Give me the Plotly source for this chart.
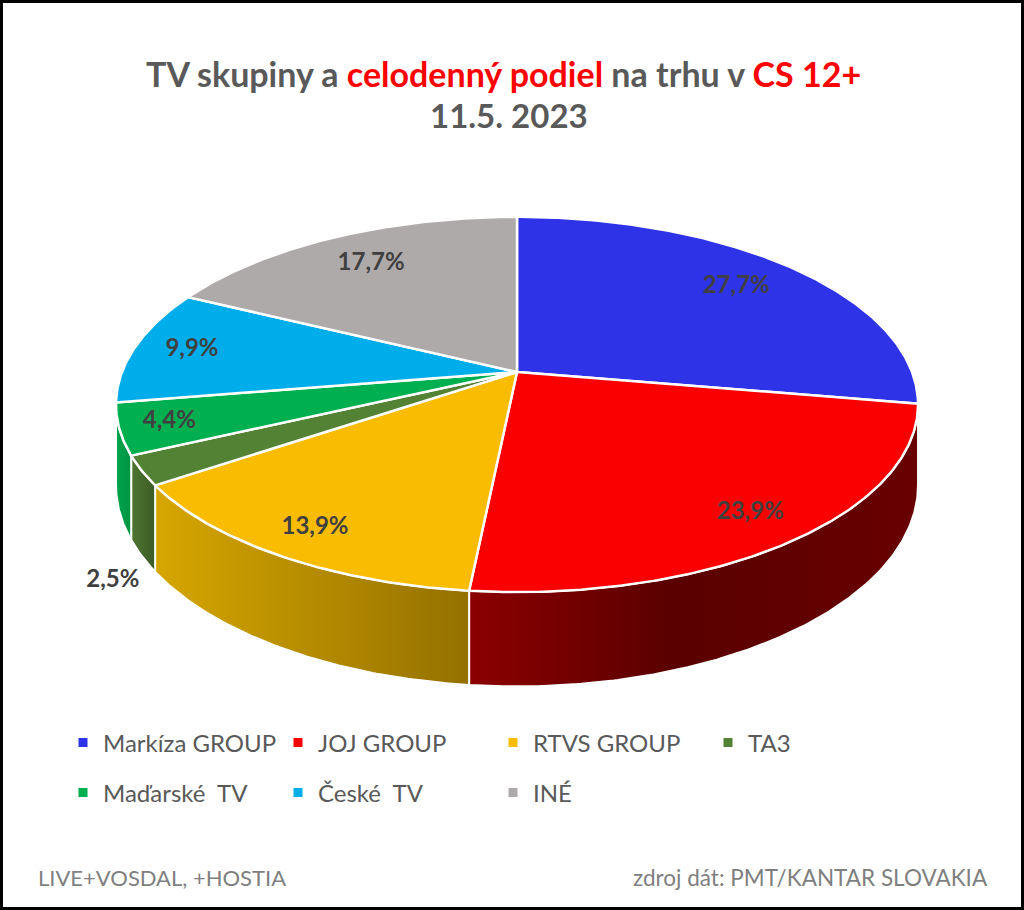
import math
import plotly.graph_objects as go

# data
groups = ["Markíza GROUP", "JOJ GROUP", "RTVS GROUP", "TA3", "Maďarské  TV", "České  TV", "INÉ"]
shares = [27.7, 23.9, 13.9, 2.5, 4.4, 9.9, 17.7]
top_colors = ["#2e33e8", "#fa0000", "#f9bc00", "#548235", "#00b050", "#00adeb", "#aeaaaa"]
side_colors = [
    [[0, "#1d21a0"], [1, "#15187a"]],
    [[0, "#8c0000"], [0.45, "#5a0000"], [1, "#680000"]],
    [[0, "#d6a600"], [1, "#947100"]],
    [[0, "#4f7531"], [1, "#3c5c26"]],
    [[0, "#00a44b"], [1, "#009443"]],
    [[0, "#0090c4"], [1, "#0080ae"]],
    [[0, "#8e8a8a"], [1, "#7a7777"]],
]
title_line2 = "11.5. 2023"
note_left = "LIVE+VOSDAL, +HOSTIA"
note_right = "zdroj dát: PMT/KANTAR SLOVAKIA"

# geometry of the tilted pie (pixel space)
CX, CY = 517, 372
RX, RY = 395, 182
PERSP = 0.173
DEPTH = 78
SIDE_FROM, SIDE_TO = 90, 261   # visible part of the rim
label_r = [0.79, 0.86, 0.87, 1.07, 0.88, 0.85, 0.78]
FONT = "Lato"


def project(deg, r=1.0, drop=0.0):
    t = math.radians(deg)
    u, v = r * math.sin(t), r * math.cos(t)
    w = 1 + PERSP * v
    return CX + RX * u / w, CY - RY * v / w + drop / w


def arc(a0, a1, drop=0.0):
    n = max(int(abs(a1 - a0) * 2), 4)
    pts = [project(a0 + (a1 - a0) * i / n, 1.0, drop) for i in range(n + 1)]
    return [p[0] for p in pts], [p[1] for p in pts]


total = sum(shares)
bounds = [0.0]
for s in shares:
    bounds.append(bounds[-1] + 360.0 * s / total)

fig = go.Figure()

# side walls first (front part only)
for i, g in enumerate(groups):
    a0, a1 = max(bounds[i], SIDE_FROM), min(bounds[i + 1], SIDE_TO)
    if a1 <= a0:
        continue
    tx, ty = arc(a0, a1)
    bx, by = arc(a1, a0, DEPTH)
    fig.add_trace(go.Scatter(
        x=tx + bx + [tx[0]], y=ty + by + [ty[0]],
        mode="lines", fill="toself",
        fillgradient=dict(type="horizontal", colorscale=side_colors[i]),
        line=dict(color="white", width=2),
        hoverinfo="skip", showlegend=False))

# top faces
for i, g in enumerate(groups):
    a0, a1 = bounds[i], bounds[i + 1]
    tx, ty = arc(a0, a1)
    fig.add_trace(go.Scatter(
        x=[CX] + tx + [CX], y=[CY] + ty + [CY],
        mode="lines", fill="toself", fillcolor=top_colors[i],
        line=dict(color="white", width=2.5),
        hoverinfo="skip", showlegend=False))

# value labels
lx, ly, lt = [], [], []
for i, s in enumerate(shares):
    mid = (bounds[i] + bounds[i + 1]) / 2
    drop = DEPTH * 1.2 if label_r[i] > 1 else 0
    x, y = project(mid, label_r[i], drop)
    lx.append(x)
    ly.append(y)
    lt.append(f"{s:.1f}".replace(".", ",") + "%")
fig.add_trace(go.Scatter(
    x=lx, y=ly, text=lt, mode="text",
    textfont=dict(family=FONT, size=24, color="#404040", weight="bold"),
    hoverinfo="skip", showlegend=False))

# legend entries
for i, g in enumerate(groups):
    fig.add_trace(go.Scatter(
        x=[None], y=[None], mode="markers", name=g,
        marker=dict(symbol="square", size=9, color=top_colors[i]),
        legend="legend" if i < 4 else "legend2"))

legend_style = dict(
    orientation="h", xanchor="left", yanchor="middle", x=63 / 1024,
    font=dict(family=FONT, size=24, color="#595959"),
    entrywidth=170, bgcolor="rgba(0,0,0,0)", traceorder="normal")

fig.update_layout(
    width=1024, height=910,
    margin=dict(l=0, r=0, t=0, b=0),
    paper_bgcolor="white", plot_bgcolor="white",
    xaxis=dict(range=[0, 1024], visible=False, fixedrange=True),
    yaxis=dict(range=[910, 0], visible=False, fixedrange=True),
    legend=dict(y=1 - 743 / 910, **legend_style),
    legend2=dict(y=1 - 793 / 910, **legend_style),
    annotations=[
        dict(x=503, y=73, xref="x", yref="y", showarrow=False,
             text="<b>TV skupiny a <span style='color:#ff0000'>celodenný podiel</span> na trhu v "
                  "<span style='color:#ff0000'>CS 12+</span></b>",
             font=dict(family=FONT, size=34, color="#595959")),
        dict(x=509, y=115, xref="x", yref="y", showarrow=False,
             text="<b>" + title_line2 + "</b>",
             font=dict(family=FONT, size=33, color="#595959")),
        dict(x=36, y=877, xref="x", yref="y", xanchor="left", showarrow=False,
             text=note_left, font=dict(family=FONT, size=22, color="#7f7f7f")),
        dict(x=990, y=877, xref="x", yref="y", xanchor="right", showarrow=False,
             text=note_right, font=dict(family=FONT, size=22.5, color="#7f7f7f")),
    ],
    shapes=[dict(type="rect", xref="x", yref="y", x0=1.5, x1=1022.5, y0=1.5, y1=908.5,
                 line=dict(color="black", width=3))],
)

fig.write_html("out.html", config={"displayModeBar": False},
               post_script="document.body.style.margin = '0';")
